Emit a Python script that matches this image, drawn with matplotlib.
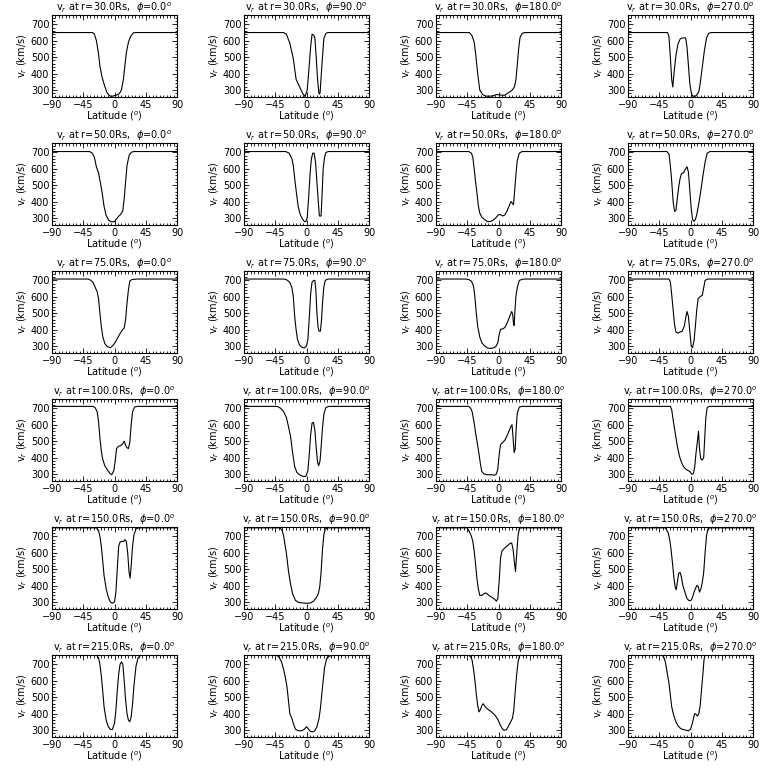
import matplotlib
matplotlib.use("Agg")
import matplotlib.pyplot as plt
from matplotlib.ticker import MultipleLocator

# radial distances (Rs) and longitudes (deg) of the 6x4 grid
radii = [30.0, 50.0, 75.0, 100.0, 150.0, 215.0]
phis = [0.0, 90.0, 180.0, 270.0]

# (latitude, v_r) pairs
r30_phi0 = [(-90, 650), (-32, 650), (-29, 640), (-26, 600), (-23, 520), (-21, 445), (-18, 380),
            (-15, 335), (-11, 285), (-7, 265), (-4, 260), (0, 266), (4, 270), (7, 278), (10, 300),
            (13, 370), (15, 450), (17, 525), (20, 590), (23, 625), (27, 648), (30, 650), (90, 650)]
r30_phi90 = [(-90, 650), (-33, 650), (-29, 640), (-24, 585), (-19, 490), (-15, 365), (-9, 310),
             (-5, 275), (-2, 260), (1, 300), (3, 400), (6, 565), (8, 640), (10, 635), (12, 620),
             (14, 500), (16, 360), (18, 275), (19.5, 280), (22, 440), (25, 615), (28, 645),
             (31, 650), (90, 650)]
r30_phi180 = [(-90, 650), (-42, 650), (-38, 630), (-35, 590), (-33, 525), (-30, 400), (-27, 300),
              (-23, 272), (-18, 262), (-12, 262), (-7, 265), (-3, 272), (1, 270), (5, 268),
              (9, 268), (13, 280), (17, 290), (20, 300), (23, 320), (25, 360), (27, 450),
              (29, 550), (31, 620), (34, 645), (38, 650), (90, 650)]
r30_phi270 = [(-90, 650), (-33, 650), (-31, 625), (-29, 500), (-27, 360), (-25.5, 318),
              (-24, 390), (-21, 510), (-18, 580), (-15, 610), (-12, 617), (-7, 617), (-5, 560),
              (-3, 450), (-1, 340), (1, 285), (3, 262), (7, 262), (10, 275), (12, 290), (14, 340),
              (17, 440), (20, 540), (23, 615), (26, 645), (30, 650), (90, 650)]

r50_phi0 = [(-90, 705), (-36, 705), (-32, 695), (-29, 670), (-26, 610), (-23, 575), (-21, 530),
            (-18, 460), (-15, 370), (-12, 315), (-8, 285), (-4, 276), (0, 278), (3, 295),
            (6, 310), (9, 322), (12, 345), (14, 420), (16, 520), (18, 620), (21, 680), (24, 700),
            (28, 705), (90, 705)]
r50_phi90 = [(-90, 705), (-30, 705), (-25, 695), (-21, 660), (-19, 620), (-17, 540), (-15, 470),
             (-12, 370), (-9, 320), (-6, 295), (-3, 278), (-1, 278), (1, 300), (3, 420), (5, 560),
             (7, 660), (9, 695), (11, 695), (13, 640), (15, 520), (17, 400), (18.5, 312),
             (21, 312), (22.5, 450), (24, 600), (26, 670), (28, 700), (32, 705), (90, 705)]
r50_phi180 = [(-90, 705), (-43, 705), (-39, 695), (-37, 670), (-35, 600), (-33, 520),
              (-31, 450), (-29, 375), (-27, 330), (-24, 305), (-20, 290), (-16, 278), (-12, 278),
              (-8, 285), (-4, 300), (0, 320), (3, 320), (6, 312), (9, 318), (12, 340), (15, 370),
              (18, 400), (20, 390), (21.5, 380), (23, 450), (25, 560), (27, 650), (30, 695),
              (34, 705), (90, 705)]
r50_phi270 = [(-90, 705), (-34, 705), (-31, 690), (-29, 620), (-27, 520), (-25, 400), (-23, 340),
              (-21, 345), (-19, 420), (-17, 490), (-15, 540), (-13, 570), (-10, 575), (-7, 600),
              (-5, 612), (-3, 580), (-1, 470), (1, 360), (3, 290), (5, 280), (7, 290), (9, 320),
              (12, 390), (15, 470), (18, 560), (21, 640), (24, 695), (28, 705), (90, 705)]

r75_phi0 = [(-90, 708), (-38, 708), (-34, 700), (-31, 688), (-28, 660), (-25, 630), (-23, 590),
            (-21, 500), (-19, 420), (-17, 360), (-14, 315), (-10, 295), (-6, 290), (-3, 300),
            (0, 315), (4, 345), (8, 375), (11, 395), (14, 410), (16, 460), (18, 560), (20, 640),
            (22, 695), (25, 705), (32, 708), (90, 708)]
r75_phi90 = [(-90, 708), (-32, 708), (-28, 702), (-24, 688), (-21, 655), (-19, 600), (-17, 480),
             (-15, 400), (-13, 340), (-10, 305), (-6, 290), (-3, 288), (0, 300), (2, 340),
             (4, 470), (6, 620), (8, 690), (10, 698), (12, 700), (13.5, 640), (15, 500),
             (16.5, 420), (18, 390), (20, 390), (21.5, 450), (23, 560), (25, 660), (27, 700),
             (31, 708), (90, 708)]
r75_phi180 = [(-90, 708), (-46, 708), (-42, 703), (-39, 695), (-36, 665), (-34, 600), (-32, 500),
              (-30, 420), (-27, 355), (-24, 320), (-20, 300), (-16, 288), (-12, 285), (-8, 287),
              (-4, 295), (-1, 320), (1, 370), (3, 402), (7, 405), (10, 418), (13, 445),
              (16, 480), (19, 510), (20.5, 490), (21.5, 440), (22.5, 425), (23.5, 500),
              (25, 600), (27, 655), (30, 700), (36, 708), (90, 708)]
r75_phi270 = [(-90, 708), (-31, 708), (-29, 690), (-27, 610), (-25, 520), (-23, 430), (-21, 385),
              (-18, 378), (-15, 385), (-12, 390), (-9, 420), (-7, 470), (-5, 510), (-3, 480),
              (-1, 390), (1, 300), (3, 290), (5, 330), (7, 420), (9, 520), (11, 590), (14, 600),
              (17, 610), (19, 655), (21, 700), (25, 708), (90, 708)]

r100_phi0 = [(-90, 712), (-31, 712), (-28, 705), (-25, 680), (-23, 620), (-21, 520), (-19, 440),
             (-17, 390), (-14, 350), (-11, 330), (-7, 305), (-4, 295), (-1, 320), (1, 380),
             (3, 455), (6, 470), (9, 472), (12, 485), (14, 500), (16, 475), (18, 460),
             (20, 455), (22, 490), (24, 600), (26, 680), (29, 708), (33, 712), (90, 712)]
r100_phi90 = [(-90, 712), (-42, 712), (-37, 700), (-33, 680), (-29, 645), (-26, 590),
              (-23, 530), (-20, 430), (-17, 345), (-14, 310), (-10, 295), (-5, 285), (-1, 285),
              (2, 320), (4, 420), (6, 540), (8, 610), (10, 615), (12, 570), (14, 460), (16, 370),
              (17.5, 350), (19.5, 380), (21, 460), (23, 580), (25, 665), (28, 705), (32, 712),
              (90, 712)]
r100_phi180 = [(-90, 712), (-43, 712), (-40, 700), (-38, 680), (-35, 610), (-33, 550),
               (-31, 500), (-28, 420), (-26, 360), (-24, 315), (-21, 300), (-16, 295),
               (-10, 295), (-6, 292), (-3, 300), (-1, 330), (1, 420), (3, 480), (6, 492),
               (9, 505), (12, 530), (15, 560), (18, 590), (19.5, 600), (21, 520), (22.5, 430),
               (24, 450), (25.5, 580), (27, 670), (30, 708), (34, 712), (90, 712)]
r100_phi270 = [(-90, 712), (-29, 712), (-27, 690), (-25, 630), (-22, 550), (-19, 470),
               (-16, 410), (-13, 370), (-10, 345), (-7, 330), (-4, 322), (-1, 315), (2, 298),
               (4, 300), (6, 340), (8, 430), (10, 500), (11.5, 560), (13, 450), (15, 390),
               (17, 385), (19, 400), (20.5, 520), (22, 640), (24, 705), (27, 712), (90, 712)]

r150_phi0 = [(-90, 752), (-26, 752), (-23, 735), (-21, 700), (-19, 640), (-17, 550),
             (-15, 460), (-12, 380), (-9, 330), (-6, 300), (-3, 292), (0, 300), (2, 360),
             (4, 500), (6, 640), (8, 665), (11, 670), (13, 668), (15, 680), (17, 670),
             (19, 600), (21, 480), (22.5, 445), (24, 520), (26, 640), (28, 710), (31, 745),
             (35, 752), (90, 752)]
r150_phi90 = [(-90, 752), (-38, 752), (-35, 735), (-33, 705), (-31, 650), (-29, 600),
              (-26, 490), (-23, 410), (-20, 350), (-16, 310), (-12, 298), (-6, 294), (0, 292),
              (6, 294), (10, 305), (14, 325), (17, 350), (19, 390), (21, 480), (23, 620),
              (25, 710), (27, 745), (31, 752), (90, 752)]
r150_phi180 = [(-90, 752), (-45, 752), (-42, 730), (-39, 700), (-37, 670), (-35, 610),
               (-33, 530), (-31, 440), (-29, 380), (-27, 340), (-24, 340), (-21, 350),
               (-18, 355), (-14, 340), (-10, 330), (-6, 318), (-3, 305), (-1, 320), (1, 430),
               (3, 570), (5, 610), (8, 625), (12, 640), (16, 655), (19, 660), (21, 620),
               (23, 540), (24.5, 485), (26, 580), (28, 700), (30, 748), (33, 752), (90, 752)]
r150_phi270 = [(-90, 752), (-36, 752), (-32, 720), (-30, 680), (-28, 620), (-26, 540),
               (-24, 450), (-22, 390), (-20.5, 375), (-19, 420), (-17, 475), (-15, 480),
               (-13, 450), (-11, 400), (-8, 360), (-5, 320), (-2, 308), (1, 310), (3, 330),
               (6, 370), (9, 400), (11, 395), (13, 360), (15, 380), (17, 420), (19, 480),
               (21, 600), (23, 700), (25, 745), (28, 752), (90, 752)]

r215_phi0 = [(-90, 757), (-26, 757), (-23, 740), (-21, 700), (-19, 630), (-17, 540), (-15, 440),
             (-12, 360), (-9, 320), (-6, 303), (-3, 303), (0, 340), (2, 420), (4, 540), (6, 640),
             (8, 700), (10, 715), (12, 700), (14, 600), (16, 480), (18, 400), (20, 360),
             (22, 350), (24, 380), (26, 460), (28, 570), (31, 690), (34, 740), (38, 757),
             (90, 757)]
r215_phi90 = [(-90, 757), (-43, 757), (-39, 740), (-36, 715), (-33, 670), (-30, 610),
              (-28, 560), (-26, 480), (-24, 400), (-21, 370), (-19, 340), (-16, 305),
              (-12, 295), (-7, 295), (-3, 305), (0, 320), (3, 305), (6, 290), (9, 288),
              (12, 295), (15, 320), (18, 370), (20, 430), (23, 560), (26, 680), (29, 735),
              (33, 750), (38, 757), (90, 757)]
r215_phi180 = [(-90, 757), (-43, 757), (-40, 745), (-38, 725), (-36, 670), (-34, 605),
               (-32, 520), (-30, 450), (-28, 410), (-26, 425), (-24, 448), (-22, 460),
               (-19, 440), (-15, 425), (-10, 410), (-5, 390), (-1, 365), (2, 335), (5, 310),
               (8, 298), (11, 300), (14, 320), (17, 345), (20, 370), (22, 420), (24, 530),
               (26, 630), (28, 710), (30, 748), (32, 757), (90, 757)]
r215_phi270 = [(-90, 757), (-41, 757), (-38, 740), (-36, 710), (-34, 660), (-31, 585),
               (-29, 510), (-27, 440), (-24, 385), (-21, 350), (-18, 325), (-14, 308),
               (-10, 302), (-6, 298), (-3, 295), (0, 305), (2, 330), (4, 365), (6, 400),
               (8, 395), (10, 385), (12, 400), (14, 450), (16, 550), (18, 650), (19.5, 730),
               (21, 757), (90, 757)]

profiles = [
    [r30_phi0, r30_phi90, r30_phi180, r30_phi270],
    [r50_phi0, r50_phi90, r50_phi180, r50_phi270],
    [r75_phi0, r75_phi90, r75_phi180, r75_phi270],
    [r100_phi0, r100_phi90, r100_phi180, r100_phi270],
    [r150_phi0, r150_phi90, r150_phi180, r150_phi270],
    [r215_phi0, r215_phi90, r215_phi180, r215_phi270],
]

xticks = [-90, -45, 0, 45, 90]
yticks = [300, 400, 500, 600, 700]
y_range = (257, 757)

fig = plt.figure(figsize=(7.68, 7.68), dpi=100)
W = 768.0

for i, r in enumerate(radii):
    for j, phi in enumerate(phis):
        left = (52 + 192 * j) / W
        bottom = 1 - (97 + 128 * i) / W
        ax = fig.add_axes([left, bottom, 125 / W, 82 / W])

        lat = [p[0] for p in profiles[i][j]]
        vr = [p[1] for p in profiles[i][j]]
        ax.plot(lat, vr, color="black", lw=0.8)

        ax.set_xlim(-90, 90)
        ax.set_ylim(*y_range)
        ax.set_xticks(xticks)
        ax.set_yticks(yticks)
        ax.xaxis.set_minor_locator(MultipleLocator(5))
        ax.yaxis.set_minor_locator(MultipleLocator(20))
        ax.tick_params(which="both", direction="in", top=True, right=True,
                       labelsize=7, width=0.6, pad=2)
        ax.tick_params(which="major", length=3.5)
        ax.tick_params(which="minor", length=1.8)
        for s in ax.spines.values():
            s.set_linewidth(0.8)

        ax.set_title(f"v$_r$ at r={r:.1f}Rs,  $\\phi$={phi:.1f}$^o$", fontsize=7, pad=2)
        ax.set_xlabel("Latitude ($^o$)", fontsize=7, labelpad=0)
        ax.set_ylabel("v$_r$ (km/s)", fontsize=7, labelpad=1)

fig.savefig("out.png", dpi=100, facecolor="white")
